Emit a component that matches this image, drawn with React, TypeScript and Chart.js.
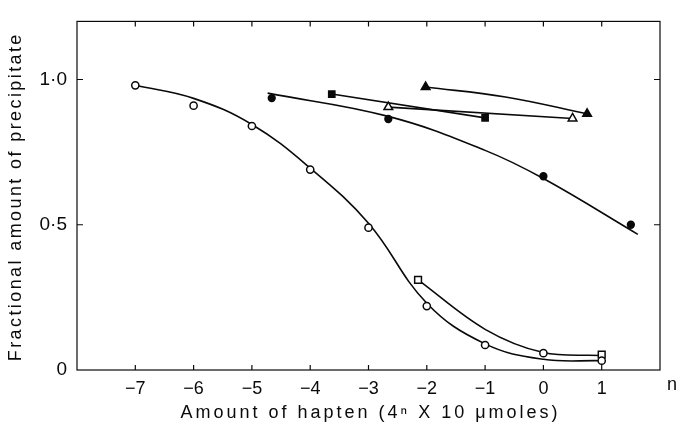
import React, { useEffect, useRef } from "react";
import { Chart, registerables } from "chart.js";

Chart.register(...registerables);

// ---- axis ticks ----
const xTickValues = [-7, -6, -5, -4, -3, -2, -1, 0, 1];
const yTickValues = [0, 0.5, 1.0];
const yTickLabels = ["0", "0·5", "1·0"];

// ---- measured points (markers) ----
const openCircleX = [-7, -6, -5, -4, -3, -2, -1, 0, 1];
const openCircleY = [0.98, 0.91, 0.84, 0.69, 0.49, 0.22, 0.086, 0.058, 0.032];

const openSquareX = [-2.15, 1];
const openSquareY = [0.31, 0.053];

const filledCircleX = [-4.66, -2.66, 0, 1.5];
const filledCircleY = [0.936, 0.864, 0.667, 0.5];

const filledSquareX = [-3.63, -1.0];
const filledSquareY = [0.95, 0.868];

const openTriangleX = [-2.66, 0.5];
const openTriangleY = [0.905, 0.866];

const filledTriangleX = [-2.02, 0.75];
const filledTriangleY = [0.974, 0.882];

// ---- fitted curves (knots) ----
const curveOpenCircleX = [-7, -6, -5, -4, -3, -2, -1, 0, 1];
const curveOpenCircleY = [0.98, 0.935, 0.845, 0.695, 0.505, 0.23, 0.09, 0.037, 0.032];

const curveOpenSquareX = [-2.15, -1, 0, 1];
const curveOpenSquareY = [0.31, 0.14, 0.06, 0.05];

const curveFilledCircleX = [-4.73, -2.66, -1.0, 0, 1.62];
const curveFilledCircleY = [0.953, 0.873, 0.756, 0.659, 0.467];

const curveFilledSquareX = [-3.63, -1.0];
const curveFilledSquareY = [0.95, 0.868];

const curveOpenTriangleX = [-2.66, 0.5];
const curveOpenTriangleY = [0.905, 0.866];

const curveFilledTriangleX = [-2.02, -0.65, 0.75];
const curveFilledTriangleY = [0.974, 0.94, 0.882];

const xTitle = "Amount of hapten (4ⁿ X 10 μmoles)";
const yTitle = "Fractional amount of precipitate";
const xEndLabel = "n";

const FONT = "'Liberation Sans', Arial, Helvetica, sans-serif";
const INK = "#0a0a0a";

const pts = (xs: number[], ys: number[]) => xs.map((x, i) => ({ x, y: ys[i] }));

function markerSet(xs: number[], ys: number[], style: string, filled: boolean, radius: number) {
  return {
    data: pts(xs, ys),
    showLine: false,
    pointStyle: style,
    pointRadius: radius,
    pointHoverRadius: radius,
    pointBorderWidth: 1.5,
    pointBorderColor: INK,
    pointBackgroundColor: filled ? INK : "#fff",
    order: 0,
  };
}

function curveSet(xs: number[], ys: number[], tension: number) {
  return {
    data: pts(xs, ys),
    showLine: true,
    borderColor: INK,
    borderWidth: 1.6,
    pointRadius: 0,
    pointHoverRadius: 0,
    tension,
    cubicInterpolationMode: "default",
    fill: false,
    order: 1,
  };
}

const framePlugin = {
  id: "framePlugin",
  afterDraw(chart: any) {
    const { ctx, chartArea: a, scales } = chart;
    const xs = scales.x;
    const ys = scales.y;
    ctx.save();
    ctx.strokeStyle = INK;
    ctx.lineWidth = 1.2;
    ctx.strokeRect(a.left, a.top, a.right - a.left, a.bottom - a.top);
    ctx.beginPath();
    for (const v of xTickValues) {
      const px = xs.getPixelForValue(v);
      ctx.moveTo(px, a.bottom);
      ctx.lineTo(px, a.bottom - 5);
      ctx.moveTo(px, a.top);
      ctx.lineTo(px, a.top + 5);
    }
    for (const v of yTickValues) {
      if (v === 0) continue;
      const py = ys.getPixelForValue(v);
      ctx.moveTo(a.left, py);
      ctx.lineTo(a.left + 6, py);
      ctx.moveTo(a.right, py);
      ctx.lineTo(a.right - 6, py);
    }
    ctx.stroke();

    ctx.fillStyle = INK;
    ctx.textAlign = "center";
    ctx.textBaseline = "middle";
    ctx.font = `18px ${FONT}`;
    (ctx as any).letterSpacing = "3px";
    ctx.fillText(xTitle, (a.left + a.right) / 2 + 2, a.bottom + 43);
    ctx.font = `18px ${FONT}`;
    (ctx as any).letterSpacing = "0px";
    ctx.fillText(xEndLabel, a.right + 12, a.bottom + 15);

    ctx.translate(16, (a.top + a.bottom) / 2 + 1);
    ctx.rotate(-Math.PI / 2);
    ctx.font = `18px ${FONT}`;
    (ctx as any).letterSpacing = "2.4px";
    ctx.fillText(yTitle, 0, 0);
    ctx.restore();
  },
};

export default function App() {
  const ref = useRef<HTMLCanvasElement | null>(null);

  useEffect(() => {
    if (!ref.current) return;
    const chart = new Chart(ref.current, {
      type: "scatter",
      data: {
        datasets: [
          markerSet(openCircleX, openCircleY, "circle", false, 3.6),
          markerSet(openSquareX, openSquareY, "rect", false, 4.8),
          markerSet(filledCircleX, filledCircleY, "circle", true, 3.4),
          markerSet(filledSquareX, filledSquareY, "rect", true, 4.4),
          markerSet(openTriangleX, openTriangleY, "triangle", false, 5),
          markerSet(filledTriangleX, filledTriangleY, "triangle", true, 5),
          curveSet(curveOpenCircleX, curveOpenCircleY, 0.4),
          curveSet(curveOpenSquareX, curveOpenSquareY, 0.35),
          curveSet(curveFilledCircleX, curveFilledCircleY, 0.4),
          curveSet(curveFilledSquareX, curveFilledSquareY, 0),
          curveSet(curveOpenTriangleX, curveOpenTriangleY, 0),
          curveSet(curveFilledTriangleX, curveFilledTriangleY, 0.4),
        ] as any,
      },
      options: {
        responsive: false,
        animation: false,
        devicePixelRatio: 1,
        layout: { padding: { left: 0, top: 17, right: 18, bottom: 0 } },
        plugins: {
          legend: { display: false },
          tooltip: { enabled: false },
          title: { display: false },
        },
        scales: {
          x: {
            type: "linear",
            min: -8,
            max: 2,
            grid: { display: false, drawTicks: false },
            border: { display: false },
            afterBuildTicks: (s: any) => {
              s.ticks = xTickValues.map((v) => ({ value: v }));
            },
            afterFit: (s: any) => {
              s.height = 59;
            },
            ticks: {
              color: INK,
              padding: 8,
              maxRotation: 0,
              autoSkip: false,
              font: { family: FONT, size: 18 },
              callback: (v: any) => (Number(v) < 0 ? "−" + Math.abs(Number(v)) : String(v)),
            },
          },
          y: {
            type: "linear",
            min: 0,
            max: 1.2,
            grid: { display: false, drawTicks: false },
            border: { display: false },
            afterBuildTicks: (s: any) => {
              s.ticks = yTickValues.map((v) => ({ value: v }));
            },
            afterFit: (s: any) => {
              s.width = 77;
            },
            ticks: {
              color: INK,
              padding: 10,
              autoSkip: false,
              font: { family: FONT, size: 19 },
              callback: (v: any) => {
                const i = yTickValues.indexOf(Number(v));
                return i >= 0 ? yTickLabels[i] : "";
              },
            },
          },
        },
      },
      plugins: [framePlugin],
    });
    return () => chart.destroy();
  }, []);

  return (
    <div style={{ position: "fixed", left: 0, top: 0, width: 678, height: 429, background: "#fff" }}>
      <canvas ref={ref} width={678} height={429} style={{ display: "block", width: 678, height: 429 }} />
    </div>
  );
}
